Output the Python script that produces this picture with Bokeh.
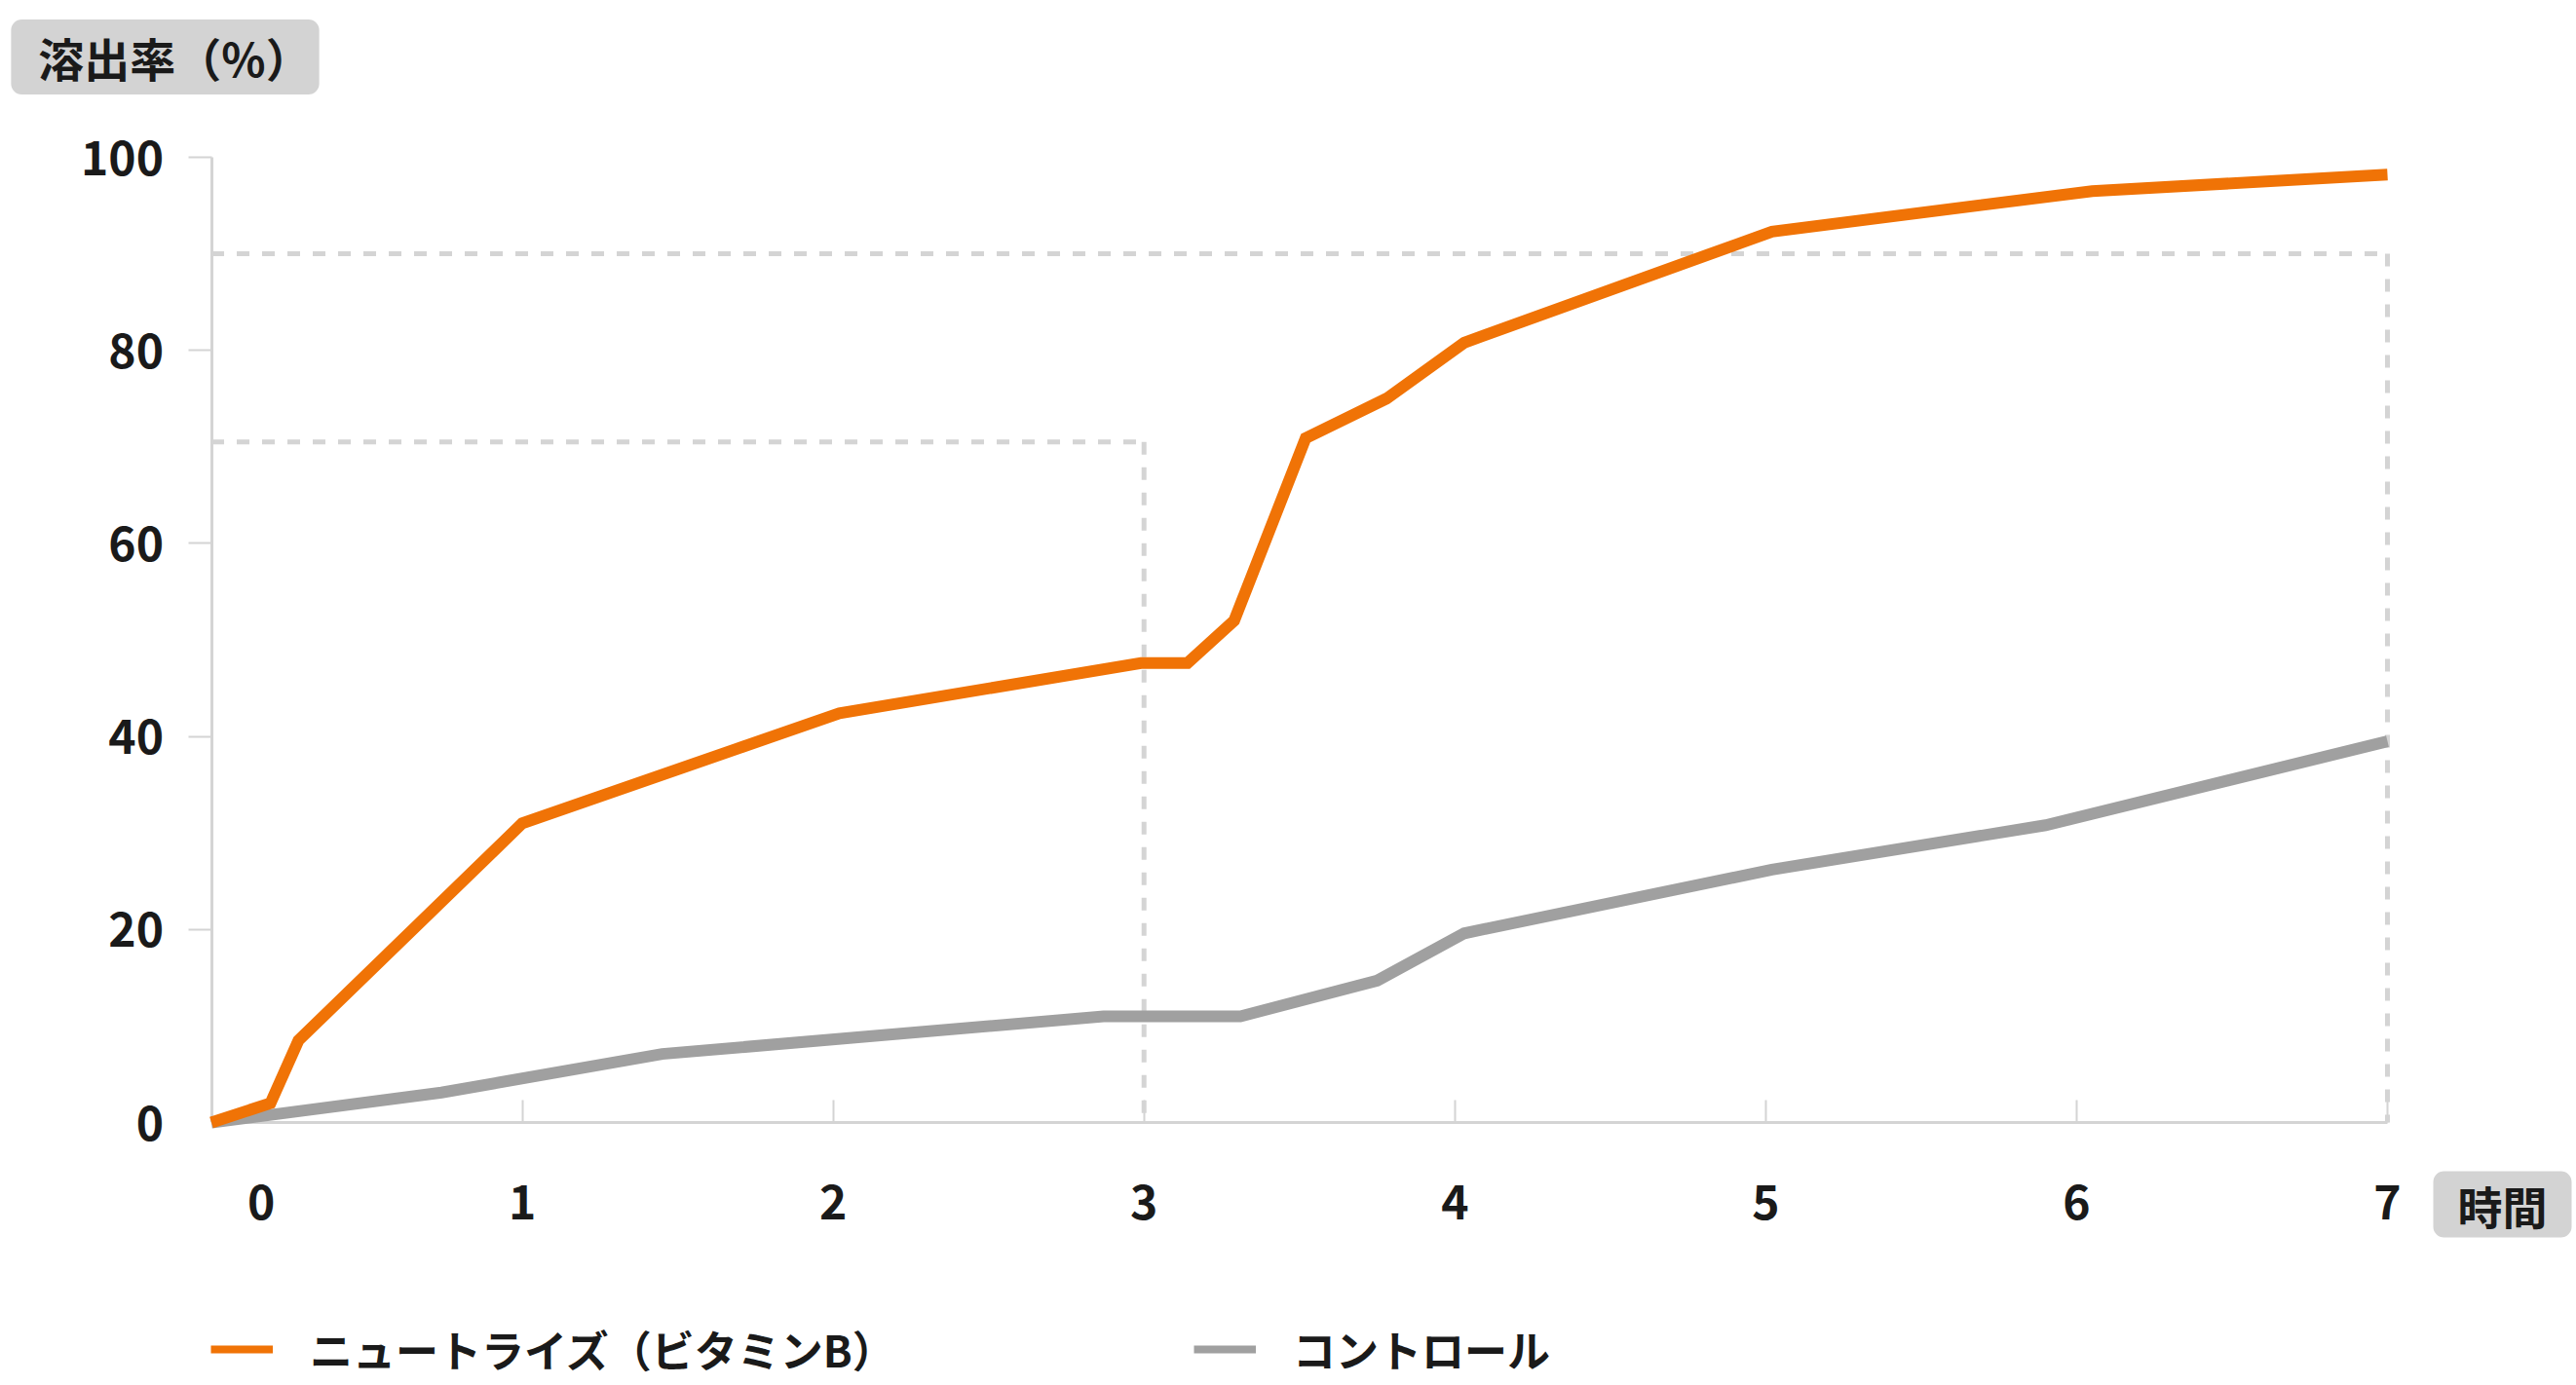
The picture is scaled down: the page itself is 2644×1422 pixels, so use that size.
from bokeh.plotting import figure
from bokeh.models import (Range1d, LinearAxis, FixedTicker, Label, Legend,
                          LegendItem)
from bokeh.embed import file_html
from bokeh.resources import INLINE

# Dissolution over time (hours -> % released)
nutrise_time = [0, 0.19, 0.28, 1.0, 2.02, 2.99, 3.14, 3.29, 3.52, 3.78, 4.03, 5.02, 6.05, 7.0]
nutrise_rate = [0, 2.0, 8.5, 31.0, 42.4, 47.6, 47.6, 52.0, 70.9, 75.0, 80.8, 92.3, 96.5, 98.2]
control_time = [0, 0.74, 1.45, 2.87, 3.31, 3.75, 4.03, 5.02, 5.90, 7.0]
control_rate = [0, 3.1, 7.1, 11.0, 11.0, 14.7, 19.6, 26.2, 30.8, 39.5]

series_names = ["ニュートライズ（ビタミンB）", "コントロール"]
x_ticks = [1, 2, 3, 4, 5, 6, 7]
y_ticks = [20, 40, 60, 80, 100]
x_title = "時間"
y_title = "溶出率（%）"

# reference guides: level reached (%) at time (h)
guide_levels = [70.5, 90]
guide_times = [3, 7]

ORANGE = "#F07306"
GRAY = "#A0A0A0"
RULE = "#D4D4D4"
INK = "#1A1A1A"
BOX = "#D3D3D3"
FONT = "Noto Sans CJK JP"

W, H = 2644, 1422
# pixel placement of the data box (x 0..7, y 0..100) on the canvas
X0_PX, X7_PX = 216.5, 2450.0
Y0_PX, Y100_PX = 1152.0, 161.0

ux = (X7_PX - X0_PX) / 7.0
uy = (Y0_PX - Y100_PX) / 100.0
# the frame spans the whole canvas so nothing gets clipped
x_range = Range1d(-X0_PX / ux, 7 + (W - X7_PX) / ux)
y_range = Range1d(-(H - Y0_PX) / uy, 100 + Y100_PX / uy)


def px_to_x(px):
    return (px - X0_PX) / ux


def px_to_y(py):
    return (Y0_PX - py) / uy


p = figure(width=W, height=H, x_range=x_range, y_range=y_range,
           output_backend="svg", toolbar_location=None,
           x_axis_location=None, y_axis_location=None,
           min_border_left=0, min_border_right=0,
           min_border_top=0, min_border_bottom=0)
p.outline_line_color = None
p.grid.grid_line_color = None
p.background_fill_color = "white"
p.border_fill_color = "white"


def style_axis(ax):
    ax.axis_line_color = RULE
    ax.axis_line_width = 3
    ax.major_tick_line_color = None
    ax.minor_tick_line_color = RULE
    ax.minor_tick_line_width = 2
    ax.major_label_text_font = FONT
    ax.major_label_text_font_style = "bold"
    ax.major_label_text_font_size = "48px"
    ax.major_label_text_color = INK


# the "0" under the time axis sits a little right of the origin
zero_label_pos = 0.16
xaxis = LinearAxis(fixed_location=0, bounds=(0, 7),
                   ticker=FixedTicker(ticks=[zero_label_pos] + x_ticks,
                                      minor_ticks=x_ticks),
                   major_label_overrides={zero_label_pos: "0"})
style_axis(xaxis)
xaxis.minor_tick_in = 23
xaxis.minor_tick_out = 0
xaxis.major_tick_in = 0
xaxis.major_tick_out = 0
xaxis.major_label_standoff = 63
p.add_layout(xaxis, "below")

yaxis = LinearAxis(fixed_location=0, bounds=(0, 100),
                   ticker=FixedTicker(ticks=[0] + y_ticks, minor_ticks=y_ticks))
style_axis(yaxis)
yaxis.minor_tick_in = 0
yaxis.minor_tick_out = 24
yaxis.major_tick_in = 0
yaxis.major_tick_out = 24
yaxis.major_label_standoff = 25
p.add_layout(yaxis, "left")

# dashed guide lines
for lvl, t in zip(guide_levels, guide_times):
    p.segment(x0=[0], y0=[lvl], x1=[t], y1=[lvl], line_color=RULE,
              line_width=5, line_dash="13 13")
    p.segment(x0=[t], y0=[lvl], x1=[t], y1=[0], line_color=RULE,
              line_width=5, line_dash="13 13")

# dissolution curves
p.line(control_time, control_rate, line_color=GRAY, line_width=12,
       line_join="miter", level="overlay")
p.line(nutrise_time, nutrise_rate, line_color=ORANGE, line_width=12,
       line_join="miter", level="overlay")

# legend swatches (thinner than the curves, nothing drawn in the plot)
nan = float("nan")
sw_orange = p.line([nan], [nan], line_color=ORANGE, line_width=8)
sw_gray = p.line([nan], [nan], line_color=GRAY, line_width=8)
for name, sw, left_px in ((series_names[0], sw_orange, 216),
                          (series_names[1], sw_gray, 1225)):
    lg = Legend(items=[LegendItem(label=name, renderers=[sw])],
                location=(left_px, H - 1417),
                orientation="horizontal", glyph_width=64, glyph_height=44,
                label_height=44, label_standoff=38, padding=0, margin=0,
                spacing=0, border_line_color=None, background_fill_alpha=0,
                label_text_font=FONT, label_text_font_style="bold",
                label_text_font_size="44px", label_text_color=INK)
    p.add_layout(lg)

# axis titles in grey rounded boxes
p.add_layout(Label(x=px_to_x(169), y=px_to_y(58), text=y_title,
                   text_align="center", text_baseline="middle",
                   text_font=FONT, text_font_style="bold",
                   text_font_size="47px", text_color=INK,
                   background_fill_color=BOX, border_radius=11,
                   padding=dict(left=28, right=8, top=4, bottom=4)))
p.add_layout(Label(x=px_to_x(2568), y=px_to_y(1236), text=x_title,
                   text_align="center", text_baseline="middle",
                   text_font=FONT, text_font_style="bold",
                   text_font_size="46px", text_color=INK,
                   background_fill_color=BOX, border_radius=11,
                   padding=(25, 1)))

open("out.html", "w").write(file_html(p, INLINE))
